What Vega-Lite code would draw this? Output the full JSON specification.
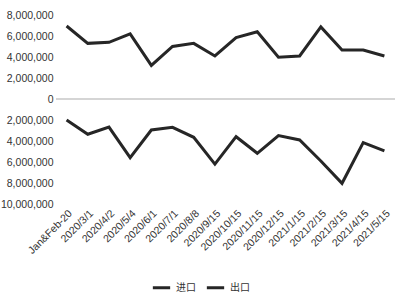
{
  "$schema": "https://vega.github.io/schema/vega-lite/v6.json",
  "width": 339,
  "height": 189,
  "autosize": {"type": "none"},
  "padding": {"left": 56, "top": 15, "right": 5, "bottom": 96},
  "background": "white",
  "config": {
    "view": {"stroke": null},
    "font": "Liberation Sans"
  },
  "data": {
    "values": [
      {"date": "Jan&Feb-20", "type": "进口", "value": 6950000},
      {"date": "2020/3/1", "type": "进口", "value": 5300000},
      {"date": "2020/4/2", "type": "进口", "value": 5400000},
      {"date": "2020/5/4", "type": "进口", "value": 6200000},
      {"date": "2020/6/1", "type": "进口", "value": 3200000},
      {"date": "2020/7/1", "type": "进口", "value": 5000000},
      {"date": "2020/8/8", "type": "进口", "value": 5300000},
      {"date": "2020/9/15", "type": "进口", "value": 4100000},
      {"date": "2020/10/15", "type": "进口", "value": 5850000},
      {"date": "2020/11/15", "type": "进口", "value": 6400000},
      {"date": "2020/12/15", "type": "进口", "value": 3970000},
      {"date": "2021/1/15", "type": "进口", "value": 4100000},
      {"date": "2021/2/15", "type": "进口", "value": 6860000},
      {"date": "2021/3/15", "type": "进口", "value": 4670000},
      {"date": "2021/4/15", "type": "进口", "value": 4670000},
      {"date": "2021/5/15", "type": "进口", "value": 4100000},
      {"date": "Jan&Feb-20", "type": "出口", "value": -2000000},
      {"date": "2020/3/1", "type": "出口", "value": -3360000},
      {"date": "2020/4/2", "type": "出口", "value": -2670000},
      {"date": "2020/5/4", "type": "出口", "value": -5590000},
      {"date": "2020/6/1", "type": "出口", "value": -2950000},
      {"date": "2020/7/1", "type": "出口", "value": -2700000},
      {"date": "2020/8/8", "type": "出口", "value": -3650000},
      {"date": "2020/9/15", "type": "出口", "value": -6200000},
      {"date": "2020/10/15", "type": "出口", "value": -3590000},
      {"date": "2020/11/15", "type": "出口", "value": -5170000},
      {"date": "2020/12/15", "type": "出口", "value": -3490000},
      {"date": "2021/1/15", "type": "出口", "value": -3900000},
      {"date": "2021/2/15", "type": "出口", "value": -5900000},
      {"date": "2021/3/15", "type": "出口", "value": -8030000},
      {"date": "2021/4/15", "type": "出口", "value": -4150000},
      {"date": "2021/5/15", "type": "出口", "value": -4950000}
    ]
  },
  "layer": [
    {
      "mark": {"type": "line", "strokeWidth": 3, "strokeJoin": "miter"},
      "encoding": {
        "x": {
          "field": "date",
          "type": "ordinal",
          "sort": null,
          "scale": {"type": "point", "padding": 0.5},
          "axis": {
            "title": null,
            "labelAngle": -45,
            "labelFontSize": 10.5,
            "labelColor": "#333333",
            "labelOverlap": false,
            "domain": false,
            "ticks": false,
            "labelPadding": 4
          }
        },
        "y": {
          "field": "value",
          "type": "quantitative",
          "scale": {"domain": [-10000000, 8000000], "nice": false, "zero": false},
          "axis": {
            "title": null,
            "tickCount": 20,
            "values": [-10000000, -8000000, -6000000, -4000000, -2000000, 0, 2000000, 4000000, 6000000, 8000000],
            "labelExpr": "format(abs(datum.value), ',')",
            "labelOverlap": false,
            "labelBound": false,
            "labelFlush": false,
            "grid": false,
            "domain": false,
            "ticks": false,
            "labelFontSize": 10.5,
            "labelColor": "#333333",
            "labelPadding": 3
          }
        },
        "color": {
          "field": "type",
          "type": "nominal",
          "sort": ["进口", "出口"],
          "scale": {"domain": ["进口", "出口"], "range": ["#262626", "#262626"]},
          "legend": {
            "title": null,
            "orient": "none",
            "legendX": 95,
            "legendY": 262,
            "direction": "horizontal",
            "symbolType": "stroke",
            "symbolStrokeWidth": 3,
            "symbolSize": 300,
            "labelFont": "Noto Sans CJK SC",
            "labelFontSize": 10,
            "labelColor": "#333333",
            "columnPadding": 4,
            "symbolLimit": 2
          }
        }
      }
    },
    {
      "mark": {"type": "rule", "color": "#d4d4d4", "strokeWidth": 1.5},
      "encoding": {"y": {"datum": 0, "type": "quantitative"}}
    }
  ]
}
